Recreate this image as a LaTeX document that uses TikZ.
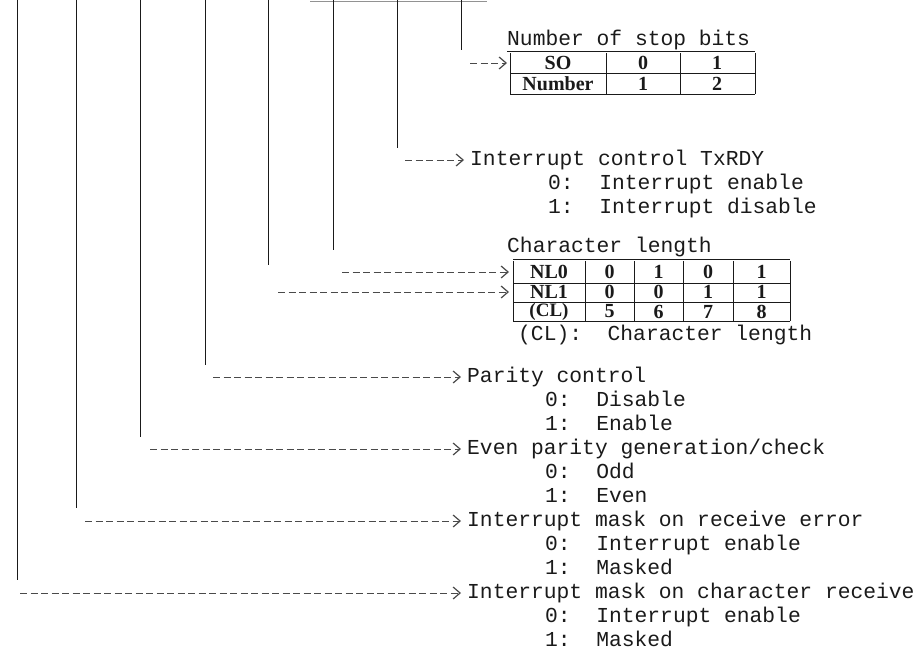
\documentclass[tikz,border=0pt]{standalone}
\usepackage{fontspec}
\setmainfont{Liberation Serif}
\setmonofont{Liberation Mono}
\usetikzlibrary{
  arrows.meta,
  positioning
}
\definecolor{scanink}{HTML}{1A1A1A}
\definecolor{scangray}{HTML}{4A4A4A}

\begin{document}
\begin{tikzpicture}[
      x=1pt, y=-1pt,
      bitline/.style={draw=scanink, line width=1pt},
      dasharrow/.style={
        draw=scangray, line width=0.9pt, dash pattern=on 7pt off 3.5pt,
        -{Straight Barb[length=7pt, width=12pt, line width=1.2pt]}
      },
      heading/.style={
        anchor=west, inner xsep=0pt, inner ysep=3pt,
        text height=14pt, text depth=4pt,
        font=\fontsize{21.3}{24}\ttfamily, text=scanink
      },
      option/.style={heading, below right=0pt and 78pt of #1, anchor=north west},
      nextopt/.style={heading, below=0pt of #1, anchor=north west},
      cell/.style={font=\fontsize{20}{22}\selectfont\bfseries, text=scanink, inner sep=0pt},
      grid/.style={draw=scanink, line width=0.9pt}
    ]
      \useasboundingbox (0,0) rectangle (918,656);

      % remnant of the register box above
      \draw[scangray!60, line width=1pt] (310,1) -- (487,1);

      % bit lines, bit 7 on the left
      \foreach \n/\x/\yend in {7/17/580, 6/76/508, 5/140/437, 4/205/365,
                               3/268/265, 2/333/250, 1/397/148, 0/461/50} {
        \coordinate (top\n) at (\x,0);
        \coordinate (end\n) at (\x,\yend);
        \draw[bitline] (top\n) -- (end\n);
      }

      % arrow starts
      \coordinate (arr0) at (470,63);
      \coordinate (arr1) at (405,160);
      \coordinate (arr2) at (342,272);
      \coordinate (arr3) at (278,292);
      \coordinate (arr4) at (213,377);
      \coordinate (arr5) at (150,449);
      \coordinate (arr6) at (85,521);
      \coordinate (arr7) at (20,593);

      % number of stop bits
      \node[heading] (stoptitle) at (507,40) {Number of stop bits};
      \draw[grid] (507,51) -- (755,51);
      \draw[grid] (510,73) -- (755,73);
      \draw[grid] (510,94) -- (755,94);
      \foreach \x in {510, 606, 680, 755}
        \draw[grid] (\x,53) -- (\x,94);
      \node[cell] (so) at (558,63) {SO};
      \node[cell] (so0) at (643,63) {0};
      \node[cell] (so1) at (717,63) {1};
      \node[cell] (num) at (558,84) {Number};
      \node[cell] (num1) at (643,84) {1};
      \node[cell] (num2) at (717,84) {2};
      \coordinate (stopin) at (507,63);
      \draw[dasharrow] (arr0) -- (stopin);

      % interrupt control TxRDY
      \node[heading] (txrdy) at (470,160) {Interrupt control TxRDY};
      \node[option=txrdy.south west] (txrdy0) {0:\ \ Interrupt enable};
      \node[nextopt=txrdy0.south west] (txrdy1) {1:\ \ Interrupt disable};
      \draw[dasharrow, shorten >=6pt] (arr1) -- (arr1 -| txrdy.west);

      % character length
      \node[heading] (cltitle) at (507,247) {Character length};
      \draw[grid] (513,259) -- (790,259);
      \draw[grid] (513,283) -- (790,283);
      \draw[grid] (513,302) -- (790,302);
      \draw[grid] (513,321) -- (790,321);
      \foreach \x in {513, 585, 634, 683, 733, 790}
        \draw[grid] (\x,261) -- (\x,321);
      \foreach \v/\x [count=\i] in {0/609.5, 1/658.5, 0/708, 1/761.5}
        \node[cell] (nla\i) at (\x,272) {\v};
      \foreach \v/\x [count=\i] in {0/609.5, 0/658.5, 1/708, 1/761.5}
        \node[cell] (nlb\i) at (\x,292) {\v};
      \foreach \v/\x [count=\i] in {5/609.5, 6/658.5, 7/708, 8/761.5}
        \node[cell] (clv\i) at (\x,311.5) {\v};
      \node[cell] (nl0) at (549,272) {NL0};
      \node[cell] (nl1) at (549,292) {NL1};
      \node[cell, font=\fontsize{19}{22}\selectfont\bfseries] (cl) at (549,312) {(CL)};
      \node[heading, inner ysep=0pt, text depth=3pt, text height=12pt] (clnote) at (518,336) {(CL):\ \ Character length};
      \coordinate (nl0in) at (509,272);
      \coordinate (nl1in) at (509,292);
      \draw[dasharrow] (arr2) -- (nl0in);
      \draw[dasharrow] (arr3) -- (nl1in);

      % parity control
      \node[heading] (parity) at (467,377) {Parity control};
      \node[option=parity.south west] (parity0) {0:\ \ Disable};
      \node[nextopt=parity0.south west] (parity1) {1:\ \ Enable};
      \draw[dasharrow, shorten >=6pt] (arr4) -- (arr4 -| parity.west);

      % even parity
      \node[heading] (even) at (467,449) {Even parity generation/check};
      \node[option=even.south west] (even0) {0:\ \ Odd};
      \node[nextopt=even0.south west] (even1) {1:\ \ Even};
      \draw[dasharrow, shorten >=6pt] (arr5) -- (arr5 -| even.west);

      % receive error mask
      \node[heading] (rxerr) at (467,521) {Interrupt mask on receive error};
      \node[option=rxerr.south west] (rxerr0) {0:\ \ Interrupt enable};
      \node[nextopt=rxerr0.south west] (rxerr1) {1:\ \ Masked};
      \draw[dasharrow, shorten >=6pt] (arr6) -- (arr6 -| rxerr.west);

      % character receive mask
      \node[heading] (rxchr) at (467,593) {Interrupt mask on character receive};
      \node[option=rxchr.south west] (rxchr0) {0:\ \ Interrupt enable};
      \node[nextopt=rxchr0.south west] (rxchr1) {1:\ \ Masked};
      \draw[dasharrow, shorten >=6pt] (arr7) -- (arr7 -| rxchr.west);
    \end{tikzpicture}
\end{document}
